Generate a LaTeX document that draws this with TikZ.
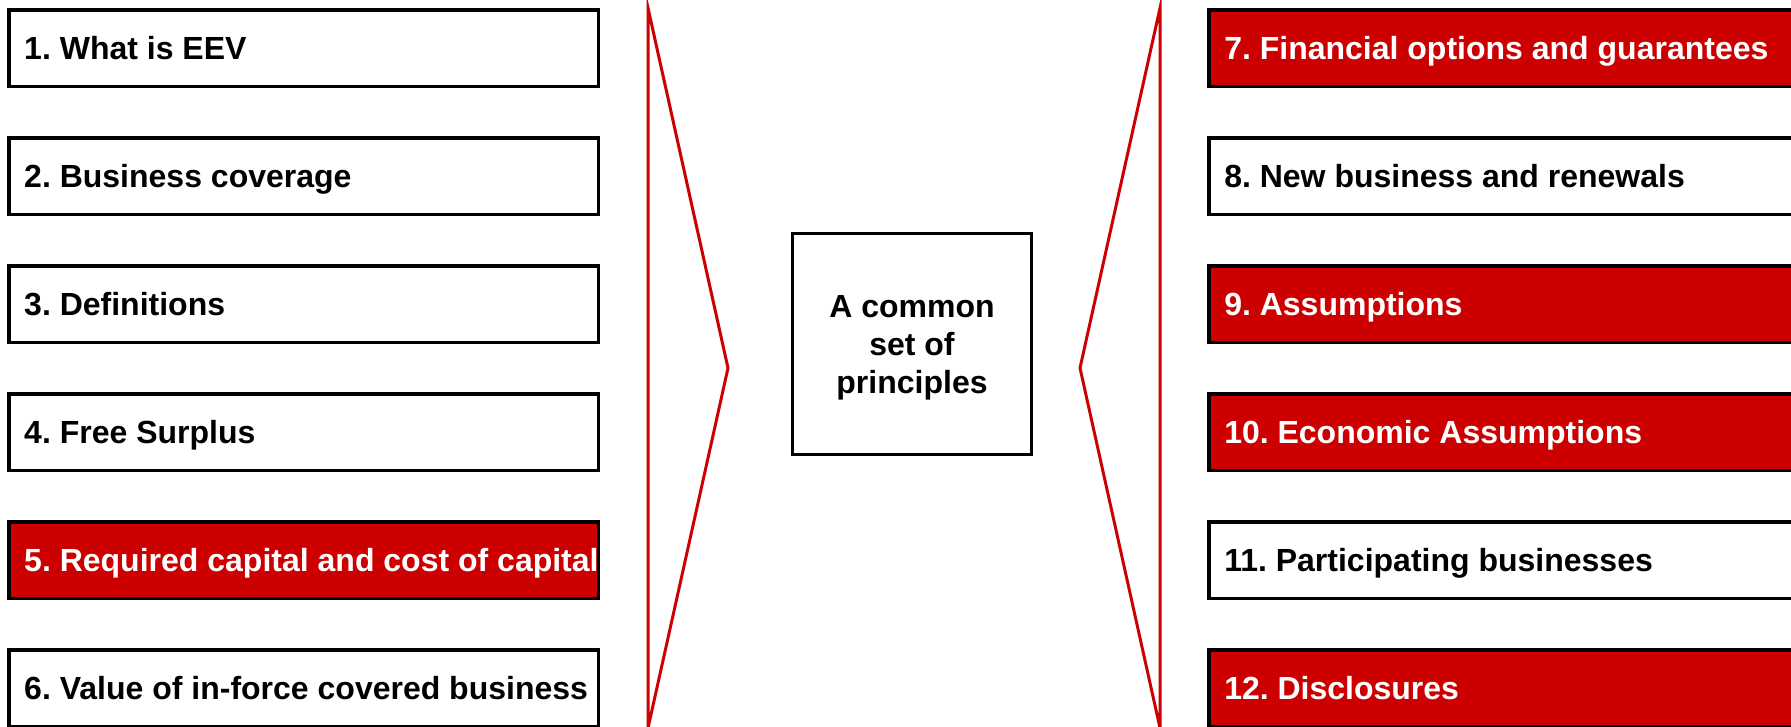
\documentclass[tikz,border=0pt]{standalone}
\usepackage{fontspec}
\setmainfont{Liberation Sans}
\definecolor{eevred}{RGB}{204,0,0}
\newcommand{\itemtext}[1]{\makebox[589.5pt][l]{\hspace{15.5pt}#1}}
\begin{document}
\frenchspacing
\begin{tikzpicture}[x=1pt,y=-1pt,
  itembox/.style={draw=black, line width=3.5pt, minimum width=589.5pt,
    minimum height=76.5pt, inner sep=0pt, text height=23pt, text depth=0pt,
    font=\fontsize{32}{38}\selectfont\bfseries\frenchspacing},
  plainbox/.style={itembox, fill=white, text=black},
  hotbox/.style={itembox, fill=eevred, text=white},
  funnel/.style={draw=eevred, line width=3pt, line join=miter},
  corebox/.style={draw=black, line width=3pt, minimum width=239pt,
    minimum height=221pt, inner sep=0pt, align=center,
    font=\fontsize{32}{38}\selectfont\bfseries}
]
\useasboundingbox (0,0) rectangle (1791,726);
\clip (0,0) rectangle (1791,726);

% left column of chapters
\node[plainbox] (c1) at (303.5,48)  {\itemtext{1. What is EEV}};
\node[plainbox] (c2) at (303.5,176) {\itemtext{2. Business coverage}};
\node[plainbox] (c3) at (303.5,304) {\itemtext{3. Definitions}};
\node[plainbox] (c4) at (303.5,432) {\itemtext{4. Free Surplus}};
\node[hotbox]   (c5) at (303.5,560) {\itemtext{5. Required capital and cost of capital}};
\node[plainbox] (c6) at (303.5,688) {\itemtext{6. Value of in-force covered business}};

% right column of chapters
\node[hotbox]   (c7)  at (1503.5,48)  {\itemtext{7. Financial options and guarantees}};
\node[plainbox] (c8)  at (1503.5,176) {\itemtext{8. New business and renewals}};
\node[hotbox]   (c9)  at (1503.5,304) {\itemtext{9. Assumptions}};
\node[hotbox]   (c10) at (1503.5,432) {\itemtext{10. Economic Assumptions}};
\node[plainbox] (c11) at (1503.5,560) {\itemtext{11. Participating businesses}};
\node[hotbox]   (c12) at (1503.5,688) {\itemtext{12. Disclosures}};

% central statement
\node[corebox] (core) at (912,344)
  {A common\\set of\\\raisebox{0pt}[\height][0pt]{principles}};

% funnels pointing toward the centre
\draw[funnel] (648,8) -- (728,368) -- (648,728) -- cycle;
\draw[funnel] (1160,8) -- (1080,368) -- (1160,728) -- cycle;
\end{tikzpicture}
\end{document}
